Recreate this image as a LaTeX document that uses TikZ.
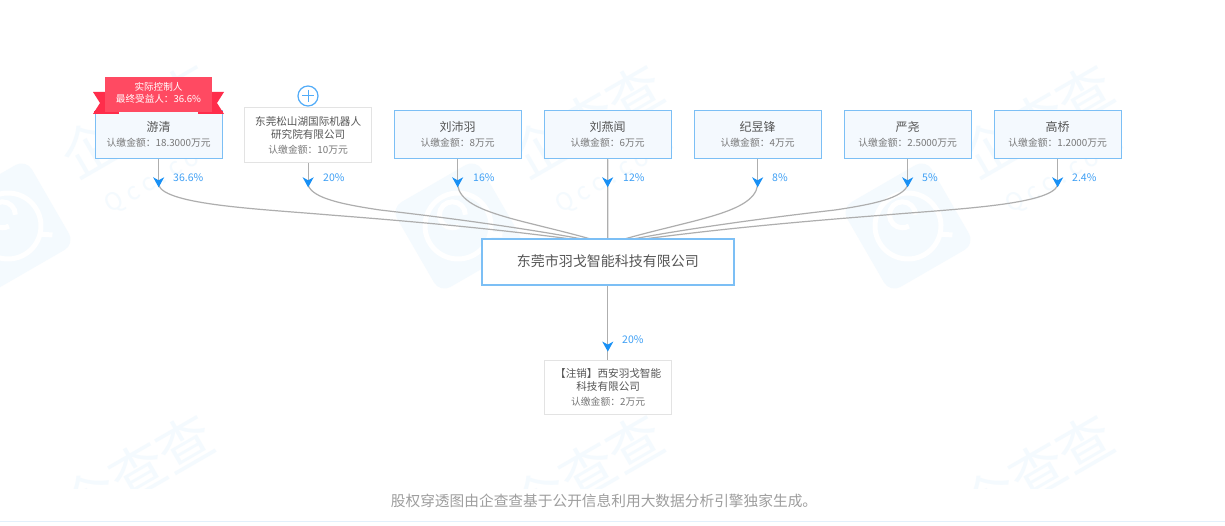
\documentclass[tikz,border=0pt]{standalone}
\usepackage{fontspec}
\setmainfont{Noto Sans CJK SC}
\usetikzlibrary{arrows.meta,backgrounds}
\definecolor{bl}{HTML}{7CBFF5}
\definecolor{fillb}{HTML}{F4F9FE}
\definecolor{grayb}{HTML}{E3E3E3}
\definecolor{ln}{HTML}{AEAEAE}
\definecolor{pct}{HTML}{3FA0F5}
\definecolor{tipc}{HTML}{1890F5}
\definecolor{txt}{HTML}{555555}
\definecolor{subc}{HTML}{777777}
\definecolor{wm}{HTML}{F4FAFE}
\definecolor{rb}{HTML}{FF2D4B}
\definecolor{rm}{HTML}{FF4A62}
\definecolor{strip}{HTML}{E3F0FB}
\newcommand{\fs}[1]{\fontsize{#1}{#1}\selectfont}
\tikzset{
  x=1pt,y=-1pt,
  pbox/.style={draw=bl,line width=1.3pt,fill=fillb,minimum width=127pt,minimum height=48pt,anchor=north west,inner sep=0pt,align=center,text=txt,font=\fs{12}},
  cbox/.style={draw=grayb,line width=1.3pt,fill=white,minimum width=127pt,anchor=north west,inner sep=0pt,align=center,text=txt,font=\fs{12}},
  pctl/.style={text=pct,anchor=west,inner sep=0pt,font=\fs{10.5}},
  conn/.style={draw=ln,line width=1.2pt},
  arr/.style={draw=ln,line width=1.2pt,-{Stealth[length=10pt,width=11pt,inset=3pt,color=tipc]}},
}
\newcommand{\pname}[2]{{\fs{12}#1}\\[3pt]{\fs{9.8}\color{subc}认缴金额：#2}}
\newcommand{\wlogo}[2]{%
  \begin{scope}[shift={(#1,#2)},rotate=30]
    \fill[wm,rounded corners=12pt] (-49,-49) rectangle (49,49);
    \draw[white,line width=5pt] (0,0) circle (33pt);
    \draw[white,line width=5pt] (12,-6) arc (-30:270:13pt);
    \draw[white,line width=5pt] (22,22) -- (34,30);
  \end{scope}}
\newcommand{\wtext}[2]{%
  \node[text=wm,inner sep=0pt,rotate=30,font=\fs{55}] at (#1,#2) {企查查};}
\begin{document}
\begin{tikzpicture}
\useasboundingbox (0,0) rectangle (1225,526);
% company and shareholder boxes
\node[pbox,minimum width=252pt,minimum height=46pt,fill=white,line width=1.6pt] (main) at (481,238) {\raisebox{2pt}{\fs{14}\color{txt}东莞市羽戈智能科技有限公司}};
\node[pbox] (a) at (94.5,110) {\pname{游清}{18.3000万元}};
\node[cbox,minimum height=55pt] (b) at (244,107) {{\fs{10.6}东莞松山湖国际机器人}\\[1pt]{\fs{10.6}研究院有限公司}\\[3pt]{\fs{9.8}\color{subc}认缴金额：10万元}};
\node[pbox] (c) at (393.5,110) {\pname{刘沛羽}{8万元}};
\node[pbox] (d) at (543.5,110) {\pname{刘燕闻}{6万元}};
\node[pbox] (e) at (693.5,110) {\pname{纪昱锋}{4万元}};
\node[pbox] (f) at (843.5,110) {\pname{严尧}{2.5000万元}};
\node[pbox] (g) at (993.5,110) {\pname{高桥}{1.2000万元}};
\node[cbox,minimum height=54pt] (h) at (544,360) {{\fs{10.6}【注销】西安羽戈智能}\\[1pt]{\fs{10.6}科技有限公司}\\[3pt]{\fs{9.8}\color{subc}认缴金额：2万元}};
\coordinate (mc) at (607.5,244);
% percent labels
\node[pctl] (pa) at (173,178) {36.6\%};
\node[pctl] (pb) at (323,178) {20\%};
\node[pctl] (pc) at (473,178) {16\%};
\node[pctl] (pd) at (623,178) {12\%};
\node[pctl] (pe) at (772,178) {8\%};
\node[pctl] (pf) at (922,178) {5\%};
\node[pctl] (pg) at (1072,178) {2.4\%};
\node[pctl] (ph) at (622,340) {20\%};
% ribbon
\fill[rb] (93,92) -- (106,92) -- (106,114) -- (93,114) -- (100,103) -- cycle;
\fill[rb] (224,92) -- (211,92) -- (211,114) -- (224,114) -- (217,103) -- cycle;
\fill[rb] (94,111) rectangle (119,114);
\fill[rb] (198,111) rectangle (223,114);
\fill[rm] (105,77) rectangle (212,112);
\node[text=white,align=center,inner sep=0pt,font=\fs{12}] (rib) at (158.5,92.5) {{\fs{9.6}实际控制人}\\{\fs{9.6}最终受益人：36.6\%}};
% plus button
\node[draw=tipc!75!white,line width=1.2pt,circle,minimum size=20pt,inner sep=0pt,fill=white] (plus) at (308,96) {};
\draw[tipc!75!white,line width=1pt] (plus.center) ++(-6,0) -- ++(12,0) (plus.center) ++(0,-6) -- ++(0,12);
% footer
\node[text=black!38,inner sep=0pt,font=\fs{14.7}] (foot) at (604,501) {股权穿透图由企查查基于公开信息利用大数据分析引擎独家生成。};
\begin{scope}[on background layer]
  \fill[white] (0,0) rectangle (1225,526);
  % watermarks
  \wlogo{8}{226}\wlogo{458}{226}\wlogo{908}{226}
  \foreach \px in {137,587,1037}{
    \wtext{\px}{120}
    \node[text=wm,rotate=30,inner sep=0pt,font=\fs{24}\addfontfeatures{LetterSpace=25}] at (\px+28,175) {Qcc.com};
  }
  \begin{scope}
    \clip (0,400) rectangle (1225,488);
    \foreach \px in {137,587,1037}{
      \wtext{\px}{470}
    }
  \end{scope}
  \fill[strip] (0,520.5) rectangle (1225,521.5);
  % connectors
  \draw[conn] (a.south) ++(0,26) .. controls (166,205) and (260,209) .. (330,215) .. controls (420,222) and (510,230) .. (mc);
  \draw[conn] (b.south) ++(0,22) .. controls (313,198) and (340,204) .. (380,210) .. controls (450,218) and (540,230) .. (mc);
  \draw[conn] (c.south) ++(0,26) .. controls (462,215) and (530,220) .. (mc);
  \draw[conn] (e.south) ++(0,26) .. controls (753,215) and (685,220) .. (mc);
  \draw[conn] (f.south) ++(0,26) .. controls (902,198) and (875,204) .. (835,210) .. controls (765,218) and (675,230) .. (mc);
  \draw[conn] (g.south) ++(0,26) .. controls (1050,205) and (955,209) .. (885,215) .. controls (795,222) and (705,230) .. (mc);
  \draw[conn] (d.south) -- (main.north);
  \draw[conn] (main.south) -- (main.south |- h.north);
  \draw[arr] (a.south) -- ++(0,28);
  \draw[arr] (b.south) -- ++(0,24);
  \draw[arr] (c.south) -- ++(0,28);
  \draw[arr] (d.south) -- ++(0,28);
  \draw[arr] (e.south) -- ++(0,28);
  \draw[arr] (f.south) -- ++(0,28);
  \draw[arr] (g.south) -- ++(0,28);
  \draw[arr] (main.south) -- ++(0,66);
\end{scope}
\end{tikzpicture}
\end{document}
